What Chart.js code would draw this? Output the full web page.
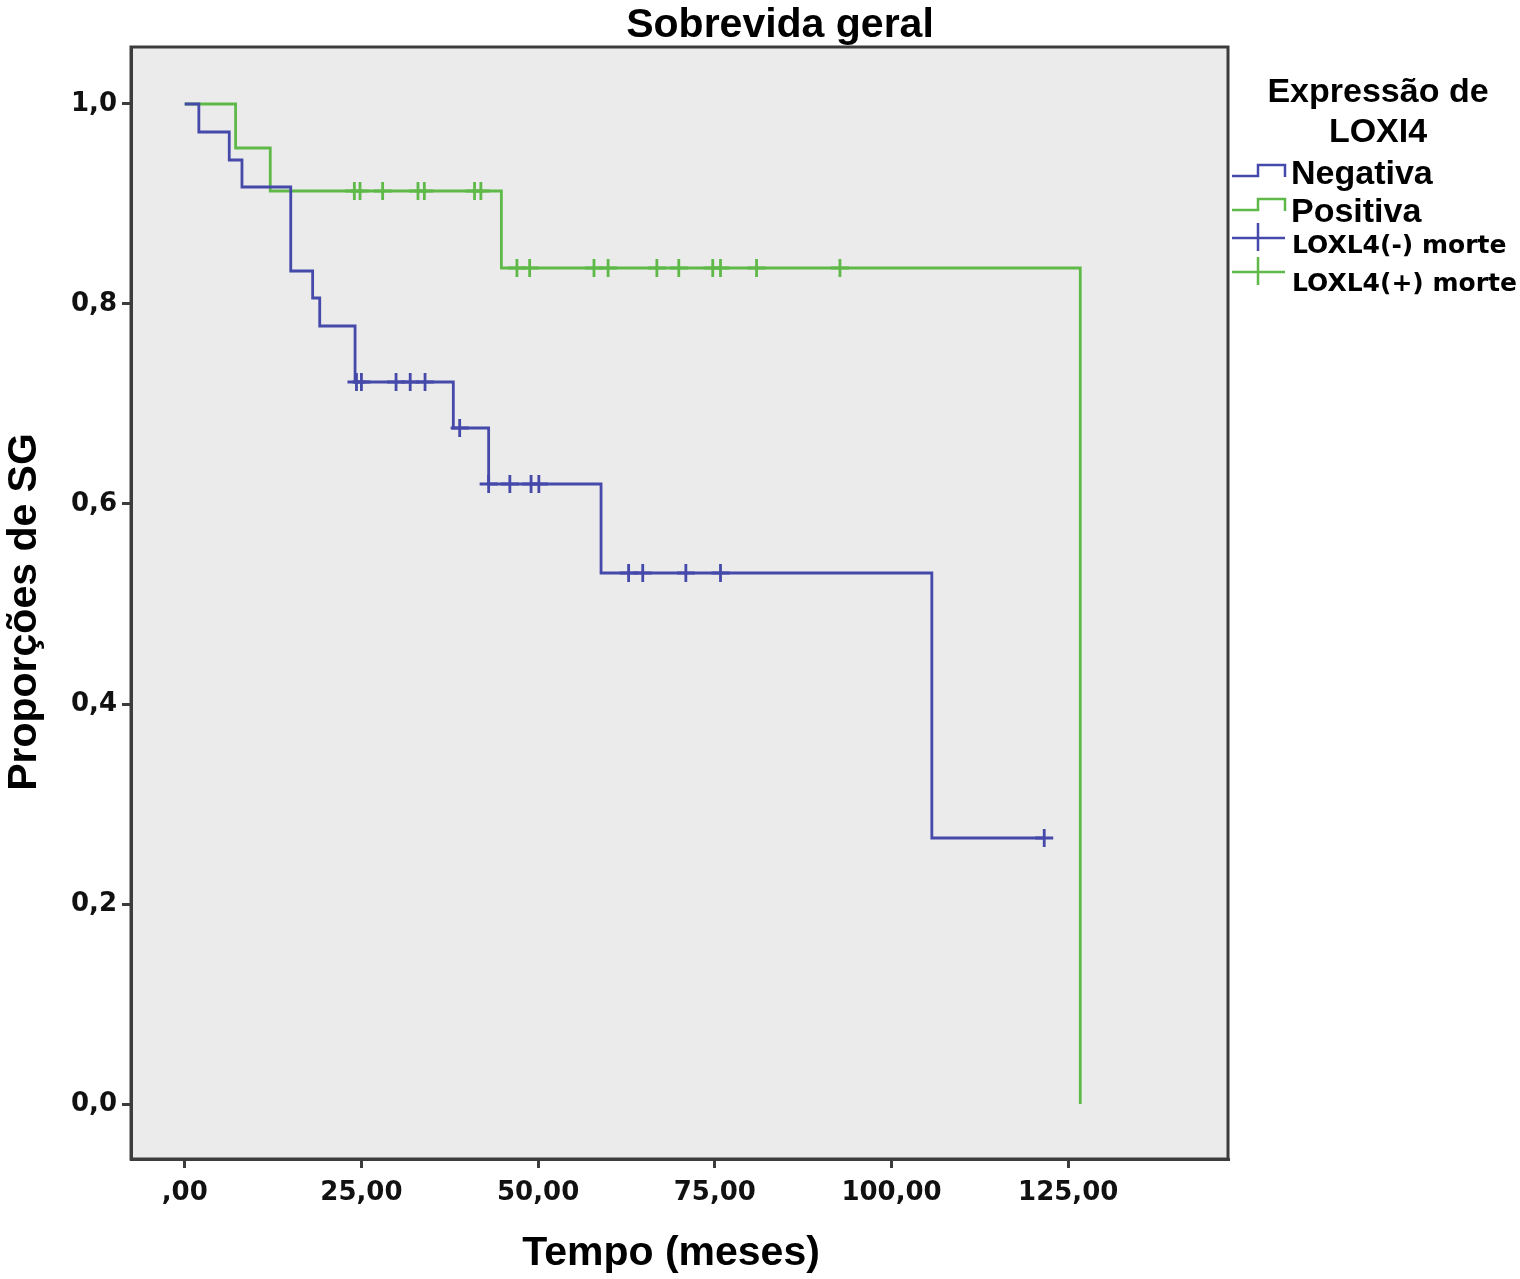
<!DOCTYPE html>
<html>
<head>
<meta charset="utf-8">
<title>Sobrevida geral</title>
<script src="https://cdn.jsdelivr.net/npm/chart.js@4.4.1/dist/chart.umd.min.js"></script>
<style>
  html, body { margin: 0; padding: 0; background: #fff; }
  #wrap { width: 1520px; height: 1279px; }
</style>
</head>
<body>
<div id="wrap"><canvas id="kmChart" width="1520" height="1279"></canvas></div>
<script>
// === Data ===
// Negativa: event times (meses) and survival after each step
const negTimes = [0, 2, 6.3, 8.1, 15, 18.1, 19.1, 24.1, 38, 43, 58.9, 105.7, 121.6];
const negSurv  = [1, 0.972, 0.944, 0.917, 0.833, 0.806, 0.778, 0.722, 0.676, 0.620, 0.531, 0.266, 0.266];
const negCensored = [24.3, 25, 29.9, 31.9, 34, 38.9, 43, 46, 49, 50.1, 62.8, 64.8, 70.9, 75.8, 121.6];

// Positiva
const posTimes = [0, 7.2, 12.1, 44.8, 126.7];
const posSurv  = [1, 0.956, 0.913, 0.836, 0];
const posCensored = [24, 24.8, 28, 33, 33.9, 41, 41.9, 47, 48.8, 57.9, 59.9, 66.8, 69.9, 74.7, 75.8, 80.9, 92.7];

const xTickValues = [0, 25, 50, 75, 100, 125];
const xTickLabels = [',00', '25,00', '50,00', '75,00', '100,00', '125,00'];
const yTickValues = [0, 0.2, 0.4, 0.6, 0.8, 1.0];
const yTickLabels = ['0,0', '0,2', '0,4', '0,6', '0,8', '1,0'];

const BLUE = '#4549aa';
const GREEN = '#5fb948';
const FRAME = '#3c3c3c';

// survival value of a curve at time t (last step at or before t)
function survAt(times, surv, t) {
  let s = surv[0];
  for (let i = 0; i < times.length; i++) {
    if (times[i] <= t) s = surv[i];
  }
  return s;
}

const toPoints = (xs, ys) => xs.map((x, i) => ({ x: x, y: ys[i] }));
const censorPoints = (cens, times, surv) => cens.map(t => ({ x: t, y: survAt(times, surv, t) }));

// === Plot background + frame + texts ===
const plotBackground = {
  id: 'plotBackground',
  beforeDraw(chart) {
    const { ctx, chartArea: a } = chart;
    ctx.save();
    ctx.fillStyle = '#ebebeb';
    ctx.fillRect(a.left, a.top, a.right - a.left, a.bottom - a.top);
    ctx.restore();
  }
};

const decorations = {
  id: 'decorations',
  afterDraw(chart) {
    const { ctx, chartArea: a } = chart;
    ctx.save();
    ctx.strokeStyle = FRAME;
    ctx.lineWidth = 3;
    ctx.strokeRect(a.left, a.top, a.right - a.left, a.bottom - a.top);

    ctx.fillStyle = '#000';
    ctx.textAlign = 'center';
    ctx.textBaseline = 'alphabetic';
    ctx.font = 'bold 41px "Liberation Sans", Arial, sans-serif';
    ctx.fillText('Sobrevida geral', 780, 37);

    ctx.font = 'bold 41px "Liberation Sans", Arial, sans-serif';
    ctx.fillText('Tempo (meses)', 671, 1265);

    ctx.save();
    ctx.translate(36, 612);
    ctx.rotate(-Math.PI / 2);
    ctx.fillText('Proporções de SG', 0, 0);
    ctx.restore();

    // legend
    ctx.font = 'bold 34px "Liberation Sans", Arial, sans-serif';
    ctx.fillText('Expressão de', 1378, 102);
    ctx.fillText('LOXI4', 1378, 142);

    ctx.textAlign = 'left';
    ctx.fillText('Negativa', 1291, 184);
    ctx.fillText('Positiva', 1291, 222);
    ctx.font = 'bold 25px "DejaVu Sans", Verdana, sans-serif';
    ctx.fillText('LOXL4(-) morte', 1292, 253);
    ctx.fillText('LOXL4(+) morte', 1292, 291);

    ctx.lineWidth = 2.5;
    const stepIcon = (color, yLow) => {
      ctx.strokeStyle = color;
      ctx.beginPath();
      ctx.moveTo(1232, yLow);
      ctx.lineTo(1258, yLow);
      ctx.lineTo(1258, yLow - 11);
      ctx.lineTo(1285, yLow - 11);
      ctx.lineTo(1285, yLow + 1);
      ctx.stroke();
    };
    const crossIcon = (color, y) => {
      ctx.strokeStyle = color;
      ctx.beginPath();
      ctx.moveTo(1232, y);
      ctx.lineTo(1285, y);
      ctx.moveTo(1258, y - 15);
      ctx.lineTo(1258, y + 13);
      ctx.stroke();
    };
    stepIcon(BLUE, 176);
    stepIcon(GREEN, 210);
    crossIcon(BLUE, 238);
    crossIcon(GREEN, 272);
    ctx.restore();
  }
};

// === Chart ===
const tickFont = { family: '"DejaVu Sans", Verdana, sans-serif', size: 26, weight: 'bold' };

new Chart(document.getElementById('kmChart'), {
  type: 'line',
  data: {
    datasets: [
      {
        label: 'Negativa',
        data: toPoints(negTimes, negSurv),
        stepped: 'before',
        borderColor: BLUE,
        borderWidth: 2.8,
        pointRadius: 0,
        fill: false
      },
      {
        label: 'Positiva',
        data: toPoints(posTimes, posSurv),
        stepped: 'before',
        borderColor: GREEN,
        borderWidth: 2.8,
        pointRadius: 0,
        fill: false
      },
      {
        label: 'LOXL4(-) morte',
        data: censorPoints(negCensored, negTimes, negSurv),
        showLine: false,
        pointStyle: 'cross',
        pointRadius: 9,
        borderColor: BLUE,
        borderWidth: 2.8
      },
      {
        label: 'LOXL4(+) morte',
        data: censorPoints(posCensored, posTimes, posSurv),
        showLine: false,
        pointStyle: 'cross',
        pointRadius: 9,
        borderColor: GREEN,
        borderWidth: 2.8
      }
    ]
  },
  options: {
    responsive: false,
    animation: false,
    devicePixelRatio: 1,
    layout: { padding: { top: 47, right: 292, bottom: 0, left: 0 } },
    plugins: {
      legend: { display: false },
      tooltip: { enabled: false },
      title: { display: false }
    },
    scales: {
      x: {
        type: 'linear',
        min: -7.6,
        max: 147.6,
        afterBuildTicks: scale => { scale.ticks = xTickValues.map(v => ({ value: v })); },
        afterFit: scale => { scale.height = 120; },
        ticks: {
          color: '#111',
          font: tickFont,
          padding: 10,
          maxRotation: 0,
          callback: (value, index) => xTickLabels[index]
        },
        grid: { display: true, drawOnChartArea: false, drawTicks: true, tickLength: 9, color: FRAME, lineWidth: 3 },
        border: { display: true, color: FRAME, width: 3 }
      },
      y: {
        type: 'linear',
        min: -0.055,
        max: 1.057,
        afterBuildTicks: scale => { scale.ticks = yTickValues.map(v => ({ value: v })); },
        afterFit: scale => { scale.width = 131; },
        ticks: {
          color: '#111',
          font: tickFont,
          padding: 5,
          callback: (value, index) => yTickLabels[index]
        },
        grid: { display: true, drawOnChartArea: false, drawTicks: true, tickLength: 9, color: FRAME, lineWidth: 3 },
        border: { display: true, color: FRAME, width: 3 }
      }
    }
  },
  plugins: [plotBackground, decorations]
});
</script>
</body>
</html>
